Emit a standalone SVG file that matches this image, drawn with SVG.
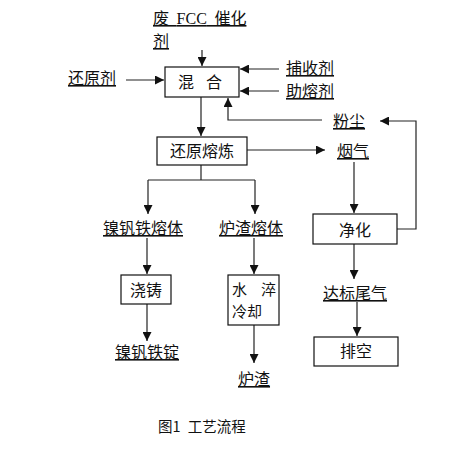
<svg xmlns="http://www.w3.org/2000/svg" width="473" height="455" viewBox="0 0 473 455">
<style>
text{font-family:"Noto Sans CJK SC","Liberation Serif",sans-serif;font-size:16px;fill:#111}
.u{text-decoration:underline}
.box{fill:#fff;stroke:#111;stroke-width:1.2}
.c{fill:none;stroke:#222;stroke-width:1.2}
.m{text-anchor:middle}
</style>
<defs>
<marker id="ah" markerUnits="userSpaceOnUse" markerWidth="9" markerHeight="9" refX="8" refY="4" orient="auto" viewBox="0 0 8 8">
<path d="M0,0 L8,4 L0,8 z" fill="#111"/>
</marker>
</defs>
<rect width="473" height="455" fill="#fff"/>
<g id="connectors">
<line class="c" x1="202" y1="50" x2="202" y2="66" marker-end="url(#ah)"/>
<line class="c" x1="126" y1="80" x2="164" y2="80" marker-end="url(#ah)"/>
<line class="c" x1="279" y1="69" x2="240" y2="69" marker-end="url(#ah)"/>
<line class="c" x1="279" y1="91" x2="240" y2="91" marker-end="url(#ah)"/>
<line class="c" x1="201" y1="97" x2="201" y2="136" marker-end="url(#ah)"/>
<polyline class="c" points="322,120 228,120 228,98" marker-end="url(#ah)"/>
<line class="c" x1="247" y1="150" x2="325" y2="150" marker-end="url(#ah)"/>
<polyline class="c" points="201,165 201,180"/>
<polyline class="c" points="148,180 255,180"/>
<line class="c" x1="148" y1="180" x2="148" y2="214" marker-end="url(#ah)"/>
<line class="c" x1="255" y1="180" x2="255" y2="214" marker-end="url(#ah)"/>
<line class="c" x1="354" y1="162" x2="354" y2="213" marker-end="url(#ah)"/>
<polyline class="c" points="397,229 416,229 416,121 380,121" marker-end="url(#ah)"/>
<line class="c" x1="147" y1="238" x2="147" y2="274" marker-end="url(#ah)"/>
<line class="c" x1="254" y1="238" x2="254" y2="274" marker-end="url(#ah)"/>
<line class="c" x1="354" y1="244" x2="354" y2="279" marker-end="url(#ah)"/>
<line class="c" x1="357" y1="302" x2="357" y2="336" marker-end="url(#ah)"/>
<line class="c" x1="147" y1="304" x2="147" y2="341" marker-end="url(#ah)"/>
<line class="c" x1="254" y1="325" x2="254" y2="363" marker-end="url(#ah)"/>
</g>
<g id="feed">
<text class="u" x="153" y="24" xml:space="preserve" style="word-spacing:4px">废 <tspan style="font-family:'Liberation Serif',serif">FCC</tspan> 催化</text>
<text class="u" x="153" y="47">剂</text>
</g>
<g id="reductant"><text class="u" x="68" y="84">还原剂</text></g>
<g id="collector"><text class="u" x="286" y="74">捕收剂</text></g>
<g id="flux"><text class="u" x="286" y="97">助熔剂</text></g>
<g id="mix">
<rect class="box" x="165" y="67" width="74" height="30"/>
<text x="178 194 206" y="88">混 合</text>
</g>
<g id="dust"><text class="u" x="333" y="127">粉尘</text></g>
<g id="smelt">
<rect class="box" x="157" y="137" width="90" height="28"/>
<text class="m" x="202" y="157">还原熔炼</text>
</g>
<g id="fluegas"><text class="u" x="337" y="157">烟气</text></g>
<g id="melt"><text class="u" x="103" y="234">镍钒铁熔体</text></g>
<g id="slagmelt"><text class="u" x="219" y="234">炉渣熔体</text></g>
<g id="purify">
<rect class="box" x="313" y="214" width="84" height="30"/>
<text class="m" x="355" y="236">净化</text>
</g>
<g id="cast">
<rect class="box" x="121" y="275" width="50" height="29"/>
<text class="m" x="146" y="296">浇铸</text>
</g>
<g id="quench">
<rect class="box" x="228" y="275" width="51" height="50"/>
<text x="232 248 261" y="295" style="font-size:15px">水 淬</text>
<text x="232" y="317" style="font-size:15px">冷却</text>
</g>
<g id="tailgas"><text class="u" x="323" y="299">达标尾气</text></g>
<g id="vent">
<rect class="box" x="314" y="337" width="84" height="29"/>
<text class="m" x="356" y="357">排空</text>
</g>
<g id="ingot"><text class="u" x="115" y="358">镍钒铁锭</text></g>
<g id="slag"><text class="u" x="238" y="385">炉渣</text></g>
<g id="caption"><text x="158" y="432" style="font-size:14.5px;word-spacing:4px">图1 工艺流程</text></g>
</svg>
